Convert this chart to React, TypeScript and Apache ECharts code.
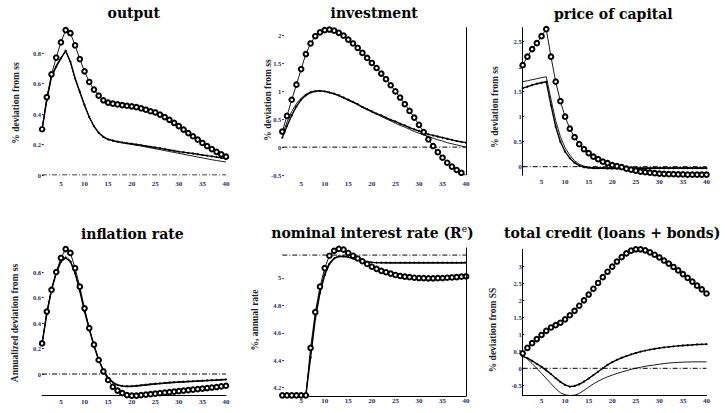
import React, { useEffect, useRef } from 'react';
import * as echarts from 'echarts';

// ---------- data ----------
const periods = [1, 2, 3, 4, 5, 6, 7, 8, 9, 10, 11, 12, 13, 14, 15, 16, 17, 18, 19, 20,
  21, 22, 23, 24, 25, 26, 27, 28, 29, 30, 31, 32, 33, 34, 35, 36, 37, 38, 39, 40];
const xTicks = [5, 10, 15, 20, 25, 30, 35, 40];

const titles = ['output', 'investment', 'price of capital', 'inflation rate', 'nominal interest rate (R', 'total credit (loans + bonds)'];
const yNames = ['% deviation from ss', '% deviation from ss', '% deviation from ss', 'Annualized deviation from ss', '%, annual rate', '% deviation from SS'];
const refLevels = [0, 0, 0, 0, 5.165, 0];

const yTicksOutput = [0, 0.2, 0.4, 0.6, 0.8];
const yTicksInvestment = [-0.5, 0, 0.5, 1, 1.5, 2];
const yTicksPrice = [0, 0.5, 1, 1.5, 2, 2.5];
const yTicksInflation = [0, 0.2, 0.4, 0.6, 0.8];
const yTicksRate = [4.2, 4.4, 4.6, 4.8, 5];
const yTicksCredit = [-0.5, 0, 0.5, 1, 1.5, 2, 2.5, 3];

const outputCircle = [0.30, 0.51, 0.66, 0.77, 0.87, 0.95, 0.93, 0.85, 0.76, 0.68, 0.61, 0.56, 0.52, 0.49, 0.475, 0.468, 0.463, 0.458, 0.454, 0.45,
  0.445, 0.437, 0.428, 0.418, 0.41, 0.396, 0.38, 0.362, 0.342, 0.32, 0.298, 0.275, 0.254, 0.232, 0.21, 0.19, 0.17, 0.152, 0.135, 0.12];
const outputDot = [0.30, 0.49, 0.645, 0.71, 0.765, 0.815, 0.743, 0.634, 0.546, 0.459, 0.38, 0.32, 0.277, 0.25, 0.234, 0.226, 0.219, 0.214, 0.209, 0.205,
  0.2, 0.195, 0.19, 0.185, 0.18, 0.175, 0.17, 0.164, 0.159, 0.153, 0.149, 0.145, 0.141, 0.136, 0.131, 0.127, 0.122, 0.117, 0.112, 0.106];
const outputThin = [0.30, 0.50, 0.65, 0.72, 0.77, 0.81, 0.74, 0.63, 0.54, 0.455, 0.378, 0.318, 0.275, 0.248, 0.232, 0.223, 0.216, 0.21, 0.205, 0.2,
  0.195, 0.19, 0.184, 0.178, 0.172, 0.166, 0.16, 0.154, 0.148, 0.142, 0.136, 0.13, 0.124, 0.118, 0.112, 0.106, 0.1, 0.095, 0.09, 0.085];

const investCircle = [0.28, 0.56, 0.85, 1.12, 1.40, 1.67, 1.86, 1.99, 2.06, 2.10, 2.11, 2.09, 2.05, 2.00, 1.93, 1.86, 1.78, 1.69, 1.60, 1.51,
  1.42, 1.32, 1.22, 1.11, 1.00, 0.89, 0.77, 0.65, 0.53, 0.40, 0.27, 0.14, 0.02, -0.09, -0.19, -0.28, -0.35, -0.41, -0.46, -0.51];
const investDot = [0.17, 0.38, 0.57, 0.73, 0.85, 0.93, 0.98, 1.0, 1.01, 1.0, 0.98, 0.96, 0.93, 0.89, 0.85, 0.81, 0.77, 0.72, 0.68, 0.64,
  0.6, 0.57, 0.53, 0.49, 0.46, 0.42, 0.39, 0.35, 0.32, 0.29, 0.26, 0.23, 0.21, 0.19, 0.17, 0.15, 0.13, 0.11, 0.095, 0.08];
const investThin = [0.22, 0.45, 0.64, 0.78, 0.88, 0.95, 0.99, 1.01, 1.01, 1.0, 0.98, 0.95, 0.92, 0.88, 0.84, 0.8, 0.76, 0.71, 0.67, 0.63,
  0.59, 0.55, 0.51, 0.47, 0.43, 0.39, 0.36, 0.32, 0.28, 0.25, 0.22, 0.19, 0.16, 0.13, 0.11, 0.08, 0.06, 0.04, 0.02, 0.0];

const priceCircle = [2.03, 2.2, 2.35, 2.47, 2.61, 2.75, 2.2, 1.7, 1.31, 1.0, 0.76, 0.59, 0.45, 0.35, 0.27, 0.2, 0.15, 0.1, 0.07, 0.03,
  0.01, -0.01, -0.04, -0.06, -0.08, -0.1, -0.11, -0.12, -0.13, -0.14, -0.145, -0.15, -0.15, -0.155, -0.155, -0.16, -0.16, -0.16, -0.16, -0.16];
const priceDot = [1.57, 1.6, 1.63, 1.66, 1.68, 1.70, 1.23, 0.8, 0.5, 0.3, 0.17, 0.08, 0.02, -0.01, -0.02, -0.03, -0.03, -0.03, -0.035, -0.035,
  -0.035, -0.035, -0.035, -0.035, -0.035, -0.035, -0.035, -0.035, -0.03, -0.03, -0.03, -0.03, -0.03, -0.03, -0.03, -0.03, -0.03, -0.03, -0.03, -0.03];
const priceThin = [1.70, 1.72, 1.74, 1.76, 1.78, 1.80, 1.35, 0.92, 0.6, 0.38, 0.23, 0.12, 0.05, 0.01, -0.01, -0.02, -0.02, -0.02, -0.02, -0.02,
  -0.02, -0.02, -0.02, -0.02, -0.02, -0.02, -0.02, -0.02, -0.02, -0.02, -0.02, -0.02, -0.02, -0.02, -0.02, -0.02, -0.02, -0.02, -0.02, -0.02];

const inflCircle = [0.24, 0.49, 0.66, 0.80, 0.91, 0.98, 0.95, 0.83, 0.685, 0.515, 0.36, 0.23, 0.11, 0.02, -0.047, -0.10, -0.13, -0.15, -0.165, -0.17,
  -0.17, -0.165, -0.162, -0.158, -0.154, -0.15, -0.146, -0.142, -0.138, -0.134, -0.13, -0.126, -0.122, -0.118, -0.114, -0.11, -0.106, -0.102, -0.097, -0.092];
const inflDot = [0.24, 0.47, 0.66, 0.79, 0.88, 0.91, 0.88, 0.79, 0.65, 0.49, 0.35, 0.22, 0.11, 0.03, -0.03, -0.065, -0.085, -0.093, -0.096, -0.095,
  -0.092, -0.088, -0.084, -0.08, -0.076, -0.073, -0.07, -0.067, -0.064, -0.062, -0.06, -0.058, -0.056, -0.054, -0.052, -0.05, -0.048, -0.046, -0.044, -0.042];
const inflThin = [0.24, 0.48, 0.67, 0.80, 0.89, 0.92, 0.89, 0.80, 0.66, 0.50, 0.355, 0.225, 0.115, 0.03, -0.03, -0.068, -0.088, -0.097, -0.1, -0.099,
  -0.096, -0.092, -0.088, -0.084, -0.08, -0.077, -0.074, -0.071, -0.068, -0.066, -0.064, -0.062, -0.06, -0.058, -0.056, -0.054, -0.052, -0.05, -0.048, -0.046];

const rateCircle = [4.145, 4.145, 4.145, 4.145, 4.145, 4.145, 4.49, 4.75, 4.935, 5.07, 5.16, 5.196, 5.21, 5.205, 5.18, 5.16, 5.14, 5.12, 5.1, 5.08,
  5.065, 5.05, 5.04, 5.03, 5.02, 5.013, 5.008, 5.004, 5.0, 4.998, 4.997, 4.996, 4.996, 4.997, 4.998, 5.0, 5.002, 5.005, 5.008, 5.01];
const rateDot = [4.145, 4.145, 4.145, 4.145, 4.145, 4.145, 4.42, 4.7, 4.89, 5.02, 5.1, 5.14, 5.155, 5.155, 5.15, 5.14, 5.13, 5.122, 5.116, 5.112,
  5.11, 5.11, 5.11, 5.11, 5.11, 5.11, 5.11, 5.11, 5.11, 5.11, 5.11, 5.11, 5.11, 5.11, 5.11, 5.11, 5.11, 5.11, 5.11, 5.112];
const rateThin = [4.145, 4.145, 4.145, 4.145, 4.145, 4.145, 4.45, 4.72, 4.91, 5.04, 5.11, 5.145, 5.157, 5.156, 5.15, 5.14, 5.13, 5.122, 5.116, 5.112,
  5.11, 5.108, 5.107, 5.106, 5.106, 5.106, 5.106, 5.106, 5.106, 5.106, 5.106, 5.106, 5.106, 5.106, 5.106, 5.106, 5.106, 5.106, 5.106, 5.106];

const creditCircle = [0.44, 0.6, 0.74, 0.86, 0.98, 1.1, 1.2, 1.27, 1.34, 1.44, 1.56, 1.69, 1.84, 2.0, 2.17, 2.34, 2.51, 2.68, 2.84, 2.99,
  3.14, 3.27, 3.38, 3.46, 3.5, 3.5, 3.47, 3.41, 3.34, 3.26, 3.17, 3.08, 2.98, 2.88, 2.77, 2.66, 2.55, 2.43, 2.32, 2.2];
const creditDot = [0.35, 0.3, 0.22, 0.13, 0.04, -0.06, -0.17, -0.29, -0.4, -0.49, -0.54, -0.52, -0.47, -0.39, -0.3, -0.2, -0.1, 0.0, 0.1, 0.18,
  0.25, 0.31, 0.36, 0.41, 0.45, 0.49, 0.52, 0.55, 0.575, 0.595, 0.615, 0.63, 0.645, 0.66, 0.67, 0.68, 0.69, 0.7, 0.705, 0.71];
const creditThin = [0.38, 0.27, 0.14, 0.0, -0.15, -0.3, -0.45, -0.6, -0.72, -0.78, -0.8, -0.79, -0.74, -0.65, -0.55, -0.46, -0.38, -0.31, -0.25, -0.2,
  -0.15, -0.11, -0.07, -0.03, 0.0, 0.03, 0.06, 0.08, 0.1, 0.12, 0.14, 0.155, 0.165, 0.175, 0.18, 0.185, 0.19, 0.19, 0.19, 0.19];

// ---------- layout ----------
const SERIF = '"DejaVu Serif", serif';
const LABEL_FONT = '"Liberation Serif", serif';
const LABEL_COLOR = '#2b2b5c';

const panels = [
  { circle: outputCircle, dot: outputDot, thin: outputThin, ticks: yTicksOutput, min: 0, max: 0.96,
    grid: { left: 42.1, top: 28.6, width: 183.9, height: 146.4 }, title: [133.8, 13], name: [16, 103],
    xMargin: 5, yLine: false, xLine: false, rightLine: false },
  { circle: investCircle, dot: investDot, thin: investThin, ticks: yTicksInvestment, min: -0.5, max: 2.15,
    grid: { left: 282.3, top: 27.3, width: 183.8, height: 147.7 }, title: [374.2, 13], name: [268, 100],
    xMargin: 5, yLine: false, xLine: false, rightLine: true },
  { circle: priceCircle, dot: priceDot, thin: priceThin, ticks: yTicksPrice, min: -0.17, max: 2.78,
    grid: { left: 522.7, top: 27.7, width: 183.8, height: 147.5 }, title: [613.3, 14], name: [495, 107],
    xMargin: 3, yLine: true, xLine: false, rightLine: false },
  { circle: inflCircle, dot: inflDot, thin: inflThin, ticks: yTicksInflation, min: -0.17, max: 1.0,
    grid: { left: 42.1, top: 246.5, width: 183.9, height: 149.2 }, title: [132.3, 234], name: [15, 323],
    xMargin: 2.5, yLine: false, xLine: true, rightLine: false },
  { circle: rateCircle, dot: rateDot, thin: rateThin, ticks: yTicksRate, min: 4.14, max: 5.22,
    grid: { left: 282.3, top: 247.5, width: 183.8, height: 148.5 }, title: [372.5, 233], name: [255, 320],
    xMargin: 1.5, yLine: false, xLine: true, rightLine: true },
  { circle: creditCircle, dot: creditDot, thin: creditThin, ticks: yTicksCredit, min: -0.8, max: 3.5,
    grid: { left: 522.7, top: 249.3, width: 183.8, height: 146.2 }, title: [612.2, 233], name: [493, 330],
    xMargin: 1.5, yLine: true, xLine: true, rightLine: false },
];

function pairs(vals: number[]) {
  return periods.map((p, i) => [p, vals[i]]);
}

function buildOption() {
  const grid: any[] = [];
  const xAxis: any[] = [];
  const yAxis: any[] = [];
  const series: any[] = [];
  const graphic: any[] = [];

  panels.forEach((pn, i) => {
    grid.push({ ...pn.grid, containLabel: false, outerBoundsMode: 'none' });
    xAxis.push({
      type: 'value', gridIndex: i, min: 1, max: 40,
      splitLine: { show: false },
      axisLine: { show: pn.xLine, onZero: false, lineStyle: { color: '#000', width: 1 } },
      axisTick: { show: false },
      axisLabel: {
        customValues: xTicks, margin: pn.xMargin, fontSize: 7, fontWeight: 'bold',
        fontFamily: LABEL_FONT, color: LABEL_COLOR,
      },
    });
    yAxis.push({
      type: 'value', gridIndex: i, min: pn.min, max: pn.max,
      splitLine: { show: false },
      axisLine: { show: pn.yLine, onZero: false, lineStyle: { color: '#000', width: 1 } },
      axisTick: { show: true, inside: true, length: 1.5, customValues: pn.ticks, lineStyle: { color: '#000' } },
      axisLabel: {
        customValues: pn.ticks, margin: 1, fontSize: 6.5, fontWeight: 'bold',
        fontFamily: LABEL_FONT, color: LABEL_COLOR,
      },
    });

    series.push({
      type: 'line', xAxisIndex: i, yAxisIndex: i, silent: true,
      data: [[1, refLevels[i]], [40, refLevels[i]]], symbol: 'none',
      lineStyle: { color: '#000', width: 1, type: [5, 2, 1, 2] },
      markLine: pn.rightLine ? {
        symbol: 'none', silent: true, label: { show: false },
        lineStyle: { type: 'solid', color: '#000', width: 1 },
        data: [{ xAxis: 40 }],
      } : undefined,
    });
    series.push({
      type: 'line', xAxisIndex: i, yAxisIndex: i, silent: true,
      data: pairs(pn.thin), symbol: 'none',
      lineStyle: { color: '#000', width: 0.9 },
    });
    series.push({
      type: 'line', xAxisIndex: i, yAxisIndex: i, silent: true,
      data: pairs(pn.dot), symbol: 'circle', symbolSize: 2.2, showAllSymbol: true,
      itemStyle: { color: '#000' },
      lineStyle: { color: '#000', width: 1.4 },
    });
    series.push({
      type: 'line', xAxisIndex: i, yAxisIndex: i, silent: true,
      data: pairs(pn.circle), symbol: 'emptyCircle', symbolSize: 4.6, showAllSymbol: true,
      itemStyle: { color: '#000', borderColor: '#000', borderWidth: 0.7 },
      lineStyle: { color: '#000', width: 0.9 },
    });

    // title
    if (i === 4) {
      graphic.push({
        type: 'text', x: pn.title[0], y: pn.title[1], silent: true,
        style: {
          text: '{a|' + titles[i] + '}{b|e}{a|)}',
          align: 'center', verticalAlign: 'middle',
          rich: {
            a: { fontFamily: SERIF, fontWeight: 'bold', fontSize: 14, fill: '#000', lineHeight: 18 },
            b: { fontFamily: SERIF, fontWeight: 'normal', fontSize: 9, fill: '#000', padding: [0, 0, 8, 0], lineHeight: 18 },
          },
        },
      });
    } else {
      graphic.push({
        type: 'text', x: pn.title[0], y: pn.title[1], silent: true,
        style: {
          text: titles[i], align: 'center', verticalAlign: 'middle',
          font: 'bold 14px ' + SERIF, fill: '#000',
        },
      });
    }
    // y axis name
    graphic.push({
      type: 'text', x: pn.name[0], y: pn.name[1], rotation: Math.PI / 2, silent: true,
      style: {
        text: yNames[i], align: 'center', verticalAlign: 'middle',
        font: 'bold 9.5px ' + LABEL_FONT, fill: '#1e1e2e',
      },
    });
  });

  return {
    animation: false,
    backgroundColor: '#ffffff',
    grid, xAxis, yAxis, series, graphic,
  };
}

export default function App() {
  const ref = useRef<HTMLDivElement>(null);
  useEffect(() => {
    if (!ref.current) return;
    const chart = echarts.init(ref.current, null, { renderer: 'svg' });
    chart.setOption(buildOption() as any);
    return () => chart.dispose();
  }, []);
  return (
    <div
      ref={ref}
      style={{ position: 'fixed', left: 0, top: 0, width: 725, height: 413, background: '#fff' }}
    />
  );
}
